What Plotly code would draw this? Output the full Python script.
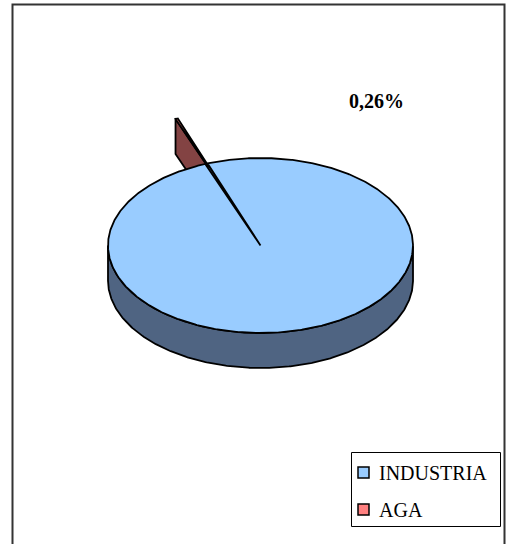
import numpy as np
import plotly.graph_objects as go

# Share of each sector
labels = ["INDUSTRIA", "AGA"]
values = [99.74, 0.26]
show_pct = [False, True]

# Styling per sector
top_colors = ["#99CCFF", "#FF8080"]
side_colors = ["#4F6482", "#834343"]
explode = [0.0, 0.55]

# 3D pie geometry (pixel space)
CX, CY = 260.5, 245.5
RX, RY = 152.5, 87.5
DEPTH = 35.0
START = 110.3  # angle (deg) where the first sector begins, sectors run clockwise
FONT = "Liberation Serif, Times New Roman, serif"

fig = go.Figure()
total = float(sum(values))


def ell(ox, oy, t_deg, dz=0.0):
    t = np.radians(t_deg)
    return ox + RX * np.cos(t), oy - RY * np.sin(t) + dz


def poly(xs, ys, fill):
    fig.add_trace(go.Scatter(
        x=list(xs) + [xs[0]], y=list(ys) + [ys[0]], mode="lines", fill="toself",
        fillcolor=fill, line=dict(color="black", width=1.8),
        hoverinfo="skip", showlegend=False))


# sector angles
sectors = []
a = START
for i, v in enumerate(values):
    sweep = v / total * 360.0
    t_start, t_end = a, a - sweep
    a = t_end
    tm = (t_start + t_end) / 2.0
    ox = CX + explode[i] * RX * np.cos(np.radians(tm))
    oy = CY - explode[i] * RY * np.sin(np.radians(tm))
    sectors.append(dict(i=i, t0=t_start, t1=t_end, tm=tm, ox=ox, oy=oy))

# back sectors first
order = sorted(sectors, key=lambda s: -np.sin(np.radians(s["tm"])))

for s in order:
    i, ox, oy = s["i"], s["ox"], s["oy"]
    t0, t1 = s["t0"], s["t1"]
    # radial faces
    if np.cos(np.radians(t0)) < 0:
        rx_, ry_ = ell(ox, oy, t0)
        poly([ox, rx_, rx_, ox], [oy, ry_, ry_ + DEPTH, oy + DEPTH], side_colors[i])
    if np.cos(np.radians(t1)) > 0:
        rx_, ry_ = ell(ox, oy, t1)
        poly([ox, rx_, rx_, ox], [oy, ry_, ry_ + DEPTH, oy + DEPTH], side_colors[i])
    # outer wall (front-facing part)
    ts = np.linspace(t1, t0, 721)
    front = ts[np.sin(np.radians(ts)) <= 0]
    if len(front) > 1:
        xt, yt = ell(ox, oy, front)
        xb, yb = ell(ox, oy, front[::-1], DEPTH)
        poly(np.concatenate([xt, xb]), np.concatenate([yt, yb]), side_colors[i])
    # top face
    xa, ya = ell(ox, oy, np.linspace(t0, t1, 721))
    poly(np.concatenate([[ox], xa]), np.concatenate([[oy], ya]), top_colors[i])

annotations = []
# percentage label
for s in sectors:
    if show_pct[s["i"]]:
        pct = values[s["i"]] / total * 100
        annotations.append(dict(
            x=376, y=101, xref="x", yref="y", showarrow=False,
            text="<b>" + f"{pct:.2f}".replace(".", ",") + "%</b>",
            font=dict(family=FONT, size=20, color="black"),
            xanchor="center", yanchor="middle"))

shapes = [
    # chart frame
    dict(type="rect", xref="x", yref="y", x0=12.5, y0=4.5, x1=504.5, y1=570,
         line=dict(color="#333333", width=2), fillcolor="rgba(0,0,0,0)", layer="above"),
    # legend box
    dict(type="rect", xref="x", yref="y", x0=351.5, y0=452.5, x1=500.5, y1=526.5,
         line=dict(color="black", width=1), fillcolor="white", layer="below"),
]
for k, name in enumerate(labels):
    yc = 472.5 + 37 * k
    shapes.append(dict(type="rect", xref="x", yref="y", x0=358, x1=369,
                       y0=yc - 5.5, y1=yc + 5.5, fillcolor=top_colors[k],
                       line=dict(color="black", width=1.5), layer="above"))
    annotations.append(dict(x=377, y=yc, xref="x", yref="y", showarrow=False,
                            text=name, xanchor="left", yanchor="middle",
                            font=dict(family=FONT, size=20, color="black")))

fig.update_layout(
    width=507, height=544, margin=dict(l=0, r=0, t=0, b=0),
    paper_bgcolor="white", plot_bgcolor="white",
    xaxis=dict(range=[0, 507], visible=False, fixedrange=True),
    yaxis=dict(range=[544, 0], visible=False, fixedrange=True),
    shapes=shapes, annotations=annotations, showlegend=False,
)

fig.write_html("out.html")
